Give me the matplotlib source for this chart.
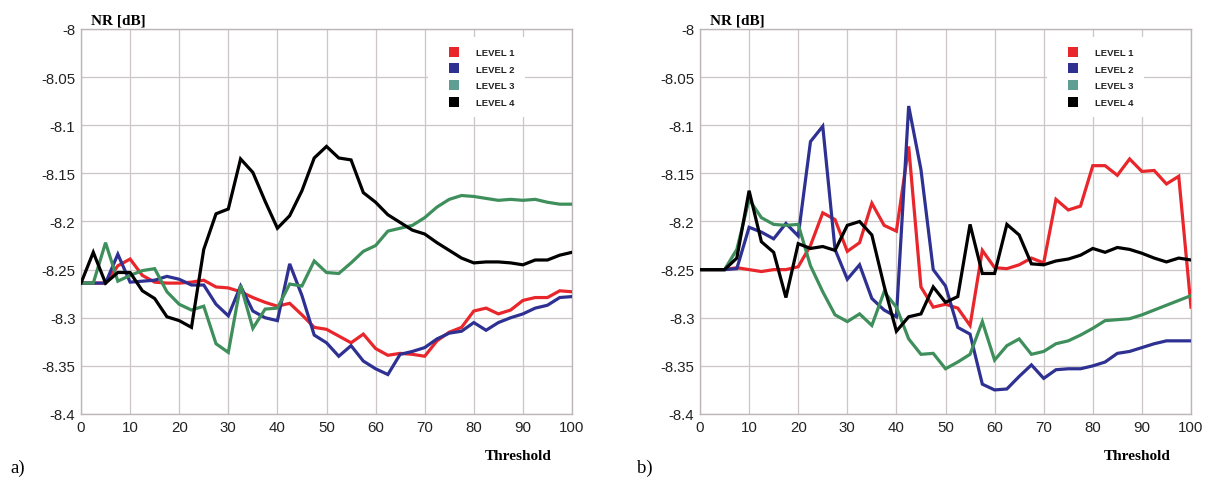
import matplotlib
matplotlib.use("Agg")
import matplotlib.pyplot as plt
from matplotlib.lines import Line2D
from matplotlib.ticker import FuncFormatter
import numpy as np

threshold = np.arange(0, 100.1, 2.5)

a_level1 = [-8.264, -8.264, -8.264, -8.246, -8.239, -8.256, -8.263, -8.264, -8.264, -8.263,
            -8.261, -8.268, -8.269, -8.273, -8.279, -8.284, -8.288, -8.285, -8.297, -8.310,
            -8.312, -8.319, -8.326, -8.317, -8.332, -8.339, -8.337, -8.338, -8.340, -8.324,
            -8.315, -8.310, -8.293, -8.290, -8.296, -8.292, -8.282, -8.279, -8.279, -8.272, -8.273]
a_level2 = [-8.264, -8.264, -8.264, -8.234, -8.263, -8.262, -8.261, -8.257, -8.260, -8.266,
            -8.266, -8.286, -8.298, -8.267, -8.293, -8.300, -8.303, -8.244, -8.277, -8.318,
            -8.326, -8.340, -8.329, -8.345, -8.353, -8.359, -8.338, -8.335, -8.331, -8.322,
            -8.316, -8.314, -8.305, -8.313, -8.305, -8.300, -8.296, -8.290, -8.287, -8.279, -8.278]
a_level3 = [-8.264, -8.264, -8.222, -8.262, -8.256, -8.251, -8.249, -8.273, -8.286, -8.292,
            -8.288, -8.327, -8.336, -8.266, -8.311, -8.291, -8.290, -8.265, -8.267, -8.241,
            -8.253, -8.254, -8.243, -8.231, -8.225, -8.210, -8.207, -8.204, -8.196, -8.185,
            -8.177, -8.173, -8.174, -8.176, -8.178, -8.177, -8.178, -8.177, -8.180, -8.182, -8.182]
a_level4 = [-8.264, -8.232, -8.264, -8.253, -8.253, -8.272, -8.280, -8.299, -8.303, -8.310,
            -8.229, -8.192, -8.187, -8.135, -8.149, -8.179, -8.207, -8.194, -8.168, -8.134,
            -8.122, -8.134, -8.136, -8.170, -8.180, -8.193, -8.201, -8.209, -8.213, -8.222,
            -8.230, -8.238, -8.243, -8.242, -8.242, -8.243, -8.245, -8.240, -8.240, -8.235, -8.232]

b_level1 = [-8.250, -8.250, -8.250, -8.248, -8.250, -8.252, -8.250, -8.250, -8.247, -8.225,
            -8.191, -8.198, -8.231, -8.222, -8.181, -8.204, -8.210, -8.122, -8.268, -8.289,
            -8.286, -8.290, -8.308, -8.230, -8.248, -8.249, -8.245, -8.238, -8.243, -8.177,
            -8.188, -8.184, -8.142, -8.142, -8.152, -8.135, -8.148, -8.147, -8.161, -8.153, -8.289]
b_level2 = [-8.250, -8.250, -8.250, -8.249, -8.206, -8.211, -8.218, -8.202, -8.215, -8.117,
            -8.101, -8.229, -8.260, -8.245, -8.280, -8.292, -8.299, -8.080, -8.146, -8.250,
            -8.267, -8.310, -8.317, -8.369, -8.375, -8.374, -8.361, -8.349, -8.363, -8.354,
            -8.353, -8.353, -8.350, -8.346, -8.337, -8.335, -8.331, -8.327, -8.324, -8.324, -8.324]
b_level3 = [-8.250, -8.250, -8.250, -8.229, -8.177, -8.196, -8.203, -8.204, -8.203, -8.246,
            -8.273, -8.297, -8.304, -8.296, -8.308, -8.273, -8.289, -8.322, -8.338, -8.337,
            -8.353, -8.346, -8.338, -8.304, -8.344, -8.329, -8.322, -8.338, -8.335, -8.327,
            -8.324, -8.318, -8.311, -8.303, -8.302, -8.301, -8.297, -8.292, -8.287, -8.282, -8.277]
b_level4 = [-8.250, -8.250, -8.250, -8.238, -8.168, -8.221, -8.232, -8.279, -8.223, -8.228,
            -8.226, -8.230, -8.204, -8.200, -8.214, -8.267, -8.314, -8.299, -8.296, -8.268,
            -8.284, -8.278, -8.203, -8.254, -8.254, -8.203, -8.214, -8.244, -8.245, -8.241,
            -8.239, -8.235, -8.228, -8.232, -8.227, -8.229, -8.233, -8.238, -8.242, -8.238, -8.240]

level_names = ["LEVEL 1", "LEVEL 2", "LEVEL 3", "LEVEL 4"]
line_colors = ["#e8262b", "#2e3192", "#3e8f5c", "#000000"]
legend_colors = ["#e8262b", "#2e3192", "#5f9e92", "#000000"]
x_ticks = [0, 10, 20, 30, 40, 50, 60, 70, 80, 90, 100]
y_ticks = [-8.4, -8.35, -8.3, -8.25, -8.2, -8.15, -8.1, -8.05, -8.0]
panel_labels = ["a)", "b)"]

panels = [[a_level1, a_level2, a_level3, a_level4],
          [b_level1, b_level2, b_level3, b_level4]]

fig = plt.figure(figsize=(12.13, 4.81), dpi=100)
fig.patch.set_facecolor("white")

W, H = 1213, 481
ax_lefts = [81, 700]
ax_w = 491
ax_top, ax_bot = 30, 415

for i, series in enumerate(panels):
    ax = fig.add_axes([ax_lefts[i] / W, 1 - ax_bot / H, ax_w / W, (ax_bot - ax_top) / H])
    for s, c in zip(series, line_colors):
        ax.plot(threshold, s, color=c, lw=2.3, solid_joinstyle="miter", zorder=3)
    ax.set_xlim(0, 100)
    ax.set_ylim(-8.4, -8.0)
    ax.set_xticks(x_ticks)
    ax.set_yticks(y_ticks)
    ax.yaxis.set_major_formatter(FuncFormatter(lambda v, p: "%g" % round(v, 2)))
    ax.grid(True, color="#cdc6c6", lw=0.9, zorder=0)
    for sp in ax.spines.values():
        sp.set_color("#bdb6b6")
        sp.set_linewidth(1.0)
    ax.tick_params(length=0, pad=4, labelsize=10.8, colors="#222222")
    for lab in ax.get_xticklabels() + ax.get_yticklabels():
        lab.set_fontfamily("Liberation Sans")
    ax.set_axisbelow(True)

    handles = [Line2D([], [], marker="s", ls="none", color=c, markersize=7.5,
                      markeredgewidth=0) for c in legend_colors]
    leg = ax.legend(handles, level_names, loc="upper left",
                    bbox_to_anchor=(0.7067, 0.978), frameon=True, facecolor="white",
                    edgecolor="none", framealpha=1, fancybox=False,
                    prop={"family": "Liberation Sans", "size": 6.8, "weight": "bold"},
                    labelspacing=0.82, handletextpad=0.62, handlelength=3.4,
                    borderpad=1.1, borderaxespad=0)
    leg.set_zorder(5)
    for t in leg.get_texts():
        t.set_color("#222222")

    fig.text((ax_lefts[i] + 10) / W, 1 - 21 / H, "NR [dB]", fontfamily="Liberation Serif",
             fontweight="bold", fontsize=11, va="center", ha="left")
    fig.text((ax_lefts[i] + 471) / W, 1 - 457 / H, "Threshold", fontfamily="Liberation Serif",
             fontweight="bold", fontsize=11, va="center", ha="right")

fig.text(10 / W, 1 - 468 / H, panel_labels[0], fontfamily="Liberation Serif",
         fontsize=13.5, va="center", ha="left")
fig.text(637 / W, 1 - 468 / H, panel_labels[1], fontfamily="Liberation Serif",
         fontsize=13.5, va="center", ha="left")

fig.savefig("out.png", dpi=100, facecolor="white")
